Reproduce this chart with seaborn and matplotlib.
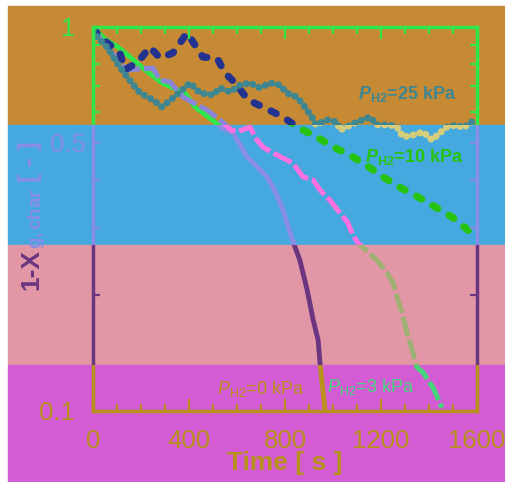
import seaborn as sns
import matplotlib.pyplot as plt
from matplotlib.patches import Rectangle
from matplotlib.transforms import Bbox, TransformedBbox, ScaledTranslation
from matplotlib.ticker import NullFormatter

# ---- data (time [s], 1-X_g,char [-]) ----
t_0kpa = [0, 50, 104, 160, 217, 287, 383, 425, 496, 540, 583, 642, 680, 725,
          750, 792, 821, 842, 862, 892, 917, 938, 946, 967]
x_0kpa = [1.0, 0.93, 0.887, 0.83, 0.773, 0.715, 0.673, 0.619, 0.573, 0.545,
          0.530, 0.459, 0.435, 0.407, 0.383, 0.334, 0.291, 0.267, 0.247,
          0.207, 0.173, 0.153, 0.133, 0.10]

t_3kpa = [0, 42, 142, 250, 279, 321, 375, 475, 529, 575, 600, 654, 683, 708,
          750, 833, 875, 917, 946, 987, 1029, 1062, 1083, 1104, 1183, 1225,
          1250, 1267, 1288, 1308, 1333, 1350, 1375, 1417, 1454]
x_3kpa = [1.0, 0.908, 0.773, 0.782, 0.728, 0.719, 0.657, 0.608, 0.573, 0.540,
          0.533, 0.549, 0.508, 0.487, 0.470, 0.442, 0.407, 0.400, 0.376,
          0.354, 0.328, 0.309, 0.287, 0.274, 0.247, 0.229, 0.216, 0.198,
          0.180, 0.160, 0.142, 0.130, 0.126, 0.115, 0.102]

t_10kpa = [0, 40, 112, 133, 188, 237, 279, 333, 392, 458, 517, 550, 592, 646,
           717, 792, 850, 933, 1000, 1071, 1142, 1208, 1283, 1354, 1425, 1496,
           1562, 1590]
x_10kpa = [0.99, 0.93, 0.856, 0.773, 0.811, 0.887, 0.830, 0.856, 0.965, 0.835,
           0.830, 0.759, 0.715, 0.646, 0.615, 0.583, 0.549, 0.517, 0.487,
           0.464, 0.435, 0.407, 0.381, 0.361, 0.340, 0.320, 0.296, 0.282]

t_25kpa = [0, 17, 58, 100, 142, 196, 250, 287, 333, 371, 404, 446, 500, 529,
           571, 612, 654, 696, 737, 779, 808, 850, 883, 912, 929, 975, 1017,
           1029, 1100, 1154, 1183, 1237, 1267, 1292, 1333, 1375, 1412, 1446,
           1475, 1517, 1542, 1571, 1592]
x_25kpa = [0.98, 0.942, 0.887, 0.806, 0.741, 0.673, 0.646, 0.619, 0.653,
           0.685, 0.715, 0.673, 0.665, 0.694, 0.677, 0.706, 0.715, 0.694,
           0.715, 0.706, 0.673, 0.657, 0.619, 0.583, 0.556, 0.573, 0.566,
           0.539, 0.566, 0.583, 0.556, 0.556, 0.549, 0.517, 0.523, 0.533,
           0.508, 0.530, 0.549, 0.556, 0.546, 0.562, 0.573]

y_ticks = [0.1, 0.5, 1]
y_ticklabels = ['0.1', '0.5', '1']
y_minor = [0.2, 0.3, 0.4, 0.6, 0.7, 0.8, 0.9]
x_ticks = [0, 400, 800, 1200, 1600]
x_ticklabels = ['0', '400', '800', '1200', '1600']
x_minor = [100, 200, 300, 500, 600, 700, 900, 1000, 1100, 1300, 1400, 1500]

# label text and anchor (data coords, left/baseline)
labels = [
    (r'$\mathbfit{P}_{\mathbf{H2}}$=25 kPa', 1104, 0.649, 'c25', 'bold'),
    (r'$\mathbfit{P}_{\mathbf{H2}}$=10 kPa', 1133, 0.445, 'c10', 'bold'),
    (r'$\mathit{P}_{\mathrm{H2}}$=0 kPa', 517, 0.111, 'axis', 'normal'),
    (r'$\mathit{P}_{\mathrm{H2}}$=3 kPa', 975, 0.112, 'c3', 'normal'),
]

# each horizontal band of the picture recolours everything inside it
bands = [
    dict(y0=1 - 125 / 482, y1=1 - 6 / 482, bg='#c58a33', axis='#2fe64d',
         c3='#8a85d8', c10='#23338f', c25='#3e8691'),
    dict(y0=1 - 245 / 482, y1=1 - 125 / 482, bg='#45a8de', axis='#8a8de6',
         c3='#ff70e0', c10='#26c40e', c25='#d6cd7a'),
    dict(y0=1 - 365 / 482, y1=1 - 245 / 482, bg='#e297a6', axis='#6b3580',
         c3='#9fb074', c10='#23338f', c25='#3e8691'),
    dict(y0=0.0, y1=1 - 365 / 482, bg='#d35bd3', axis='#b8921c',
         c3='#44d67a', c10='#26c40e', c25='#d6cd7a'),
]

sns.set_theme(style='white')
plt.rcParams['font.family'] = ['Liberation Sans', 'DejaVu Sans']
plt.rcParams['mathtext.fontset'] = 'custom'
plt.rcParams['mathtext.rm'] = 'Liberation Sans'
plt.rcParams['mathtext.it'] = 'Liberation Sans:italic'
plt.rcParams['mathtext.bf'] = 'Liberation Sans:bold'
plt.rcParams['mathtext.bfit'] = 'Liberation Sans:bold:italic'

fig = plt.figure(figsize=(5.05, 4.82), dpi=100)
fig.patch.set_facecolor('white')
ax_pos = [93 / 505, 1 - 411 / 482, 384 / 505, 384 / 482]
ax_box = Bbox.from_bounds(*ax_pos)
tick_major = 12 / 384   # tick lengths as a fraction of the 384 px axes
tick_minor = 7 / 384
fig_h = 482
nan = float('nan')


def set_scales(ax):
    ax.set_yscale('log')
    ax.set_xlim(0, 1600)
    ax.set_ylim(0.1, 1)
    ax.set_yticks(y_ticks, labels=y_ticklabels)
    ax.set_yticks(y_minor, minor=True)
    ax.yaxis.set_minor_formatter(NullFormatter())
    ax.set_xticks(x_ticks, labels=x_ticklabels)
    ax.set_xticks(x_minor, minor=True)


def band_of(y_disp):
    for b in bands:
        if b['y0'] * fig_h <= y_disp < b['y1'] * fig_h:
            return b
    return bands[0]


# band axes: data lines and frame, each clipped to its own band
for b in bands:
    fig.add_artist(Rectangle((8 / 505, b['y0']), 1 - 8 / 505, b['y1'] - b['y0'],
                             transform=fig.transFigure, color=b['bg'], zorder=0))

    ax = fig.add_axes(ax_pos)
    ax.patch.set_visible(False)

    sns.lineplot(x=t_0kpa, y=x_0kpa, ax=ax, color=b['axis'], lw=3.5,
                 estimator=None, errorbar=None, sort=False,
                 solid_capstyle='butt')
    sns.lineplot(x=t_3kpa, y=x_3kpa, ax=ax, color=b['c3'], lw=3.6,
                 estimator=None, errorbar=None, sort=False,
                 linestyle=(0, (4, 0.8)), dash_capstyle='butt')
    sns.lineplot(x=t_10kpa, y=x_10kpa, ax=ax, color=b['c10'], lw=5.2,
                 estimator=None, errorbar=None, sort=False,
                 linestyle=(0, (0.8, 1.8)), dash_capstyle='round')
    sns.lineplot(x=t_25kpa, y=x_25kpa, ax=ax, color=b['c25'], lw=5,
                 estimator=None, errorbar=None, sort=False,
                 linestyle=(0, (0.05, 0.95)), dash_capstyle='round')

    set_scales(ax)
    ax.tick_params(which='both', length=0, labelbottom=False, labelleft=False)
    ax.set_xlabel('')
    ax.set_ylabel('')
    for s in ax.spines.values():
        s.set_color(b['axis'])
        s.set_linewidth(2.5)

    band_box = Bbox([[0, b['y0']], [1, b['y1']]])
    clip_band = TransformedBbox(band_box, fig.transFigure)
    clip_data = TransformedBbox(Bbox.intersection(band_box, ax_box),
                                fig.transFigure)
    for ln in ax.lines:
        ln.set_clip_box(clip_data)
    for s in ax.spines.values():
        s.set_clip_on(True)
        s.set_clip_box(clip_band)

# frame axes on top: ticks, tick labels and texts, each in its band's colour
frame = fig.add_axes(ax_pos, zorder=5)
frame.patch.set_visible(False)
set_scales(frame)
for s in frame.spines.values():
    s.set_visible(False)
frame.tick_params(which='both', direction='in', length=0, labelsize=18.5,
                  pad=13)

y_top = frame.transAxes.transform((0, 1))[1]
y_bot = frame.transAxes.transform((0, 0))[1]
xt = frame.get_xaxis_transform()
yt = frame.get_yaxis_transform()

# inward tick marks as plain line segments, grouped by band colour
x_segs = {}
for xs, ln in ((x_ticks, tick_major), (x_minor, tick_minor)):
    for xv in xs:
        x_segs.setdefault(band_of(y_bot)['axis'], []).append((xv, 0, xv, ln))
        x_segs.setdefault(band_of(y_top)['axis'], []).append((xv, 1 - ln, xv, 1))
y_segs = {}
for yv in y_ticks + y_minor:
    col = band_of(frame.transData.transform((1, yv))[1])['axis']
    y_segs.setdefault(col, []).append((0, yv, tick_minor, yv))
    y_segs.setdefault(col, []).append((1 - tick_minor, yv, 1, yv))

for segs_by_col, trans in ((x_segs, xt), (y_segs, yt)):
    for col, segs in segs_by_col.items():
        px, py = [], []
        for x0, y0, x1, y1 in segs:
            px += [x0, x1, nan]
            py += [y0, y1, nan]
        frame.plot(px, py, color=col, lw=1.6, transform=trans, clip_on=False,
                   solid_capstyle='butt')
frame.set_xlim(0, 1600)
frame.set_ylim(0.1, 1)

shift = ScaledTranslation(11 / 100, 0, fig.dpi_scale_trans)
for tick in frame.yaxis.get_major_ticks():
    v = tick.get_loc()
    tick.label1.set_color(band_of(frame.transData.transform((1, v))[1])['axis'])
    if tick.label1.get_text() == '0.5':
        tick.label1.set_transform(tick.label1.get_transform() + shift)
for tick in frame.xaxis.get_major_ticks():
    tick.label1.set_color(band_of(y_bot)['axis'])

frame.set_xlabel('Time [ s ]', fontsize=19, fontweight='bold',
                 color=band_of(y_bot)['axis'])
frame.xaxis.set_label_coords(0.5, -0.105)
frame.set_ylabel('')

for txt, tx, ty, key, wt in labels:
    col = band_of(frame.transData.transform((tx, ty))[1])[key]
    frame.text(tx, ty, txt, color=col, fontsize=13, fontweight=wt,
               ha='left', va='baseline')

# y label: "1-X" sits in the pink band, the subscript and unit in the blue one
renderer = fig.canvas.get_renderer()
lab_x = 38 / 505
lab_y = 1 - 290 / 482
part_a = fig.text(lab_x, lab_y, '1-X', rotation=90, rotation_mode='anchor',
                  ha='left', va='baseline', fontsize=19, fontweight='bold',
                  color=band_of(lab_y * fig_h + 5)['axis'])
h_a = part_a.get_window_extent(renderer).height
part_b = fig.text(lab_x, lab_y + h_a / fig_h, r'$_{\mathbf{g,char}}$ [ - ]',
                  rotation=90, rotation_mode='anchor', ha='left',
                  va='baseline', fontsize=19, fontweight='bold',
                  color=band_of(lab_y * fig_h + h_a + 5)['axis'])

fig.savefig('out.png', dpi=100)
